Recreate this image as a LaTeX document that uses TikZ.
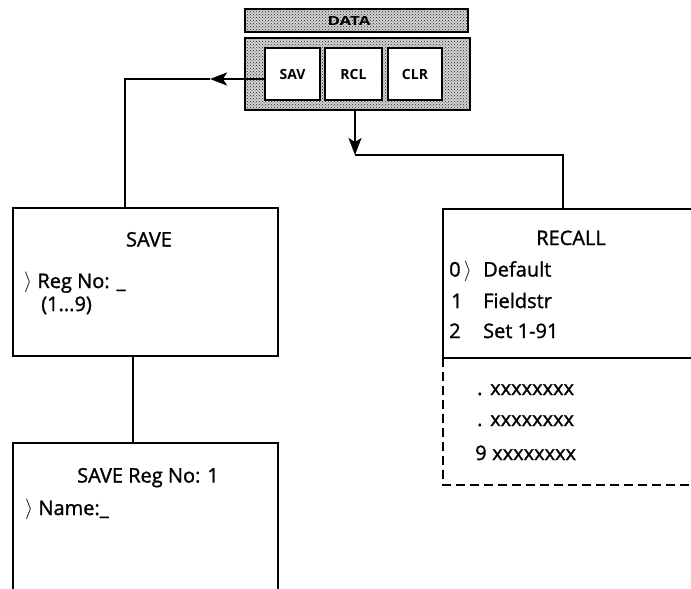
\documentclass[tikz,border=0pt]{standalone}
\usepackage{fontspec}
\setmainfont{Open Sans}
\newfontfamily\heavyfont{Open Sans}[FakeBold=1.3]
\usetikzlibrary{arrows.meta,patterns}
\newcommand{\brk}{\raisebox{0.5pt}{$\rangle$}}
\begin{document}
\begin{tikzpicture}[x=1pt,y=-1pt,
  shaded/.style={draw, line width=2.4pt, pattern=crosshatch dots, pattern color=black!85, preaction={fill=gray!35}, inner sep=0pt},
  keybox/.style={draw, line width=2.2pt, fill=white, inner sep=0pt, minimum height=52pt, font=\fontsize{14}{16}\selectfont\bfseries},
  frame/.style={line width=2pt},
  conn/.style={line width=2pt},
  txt/.style={inner sep=0pt, font=\fontsize{20}{22}\selectfont\heavyfont},
  tip/.style={-{Stealth[length=17pt,width=13pt,inset=4pt]}}
]
\useasboundingbox (0,0) rectangle (691,589);
% DATA header and key panel
\node[shaded, minimum width=223pt, minimum height=23pt] (data) at (356.5,20.5) {};
\node[inner sep=0pt, font=\fontsize{12.5}{14}\selectfont\bfseries, xscale=1.35] (datalbl) at (349,21) {DATA};
\node[shaded, minimum width=225pt, minimum height=72pt] (panel) at (357.5,74) {};
\node[keybox, minimum width=55pt] (sav) at (292.5,74) {SAV};
\node[keybox, minimum width=57pt] (rcl) at (353.5,74) {RCL};
\node[keybox, minimum width=54pt] (clr) at (415,74) {CLR};

% SAVE box
\node[draw, frame, minimum width=265pt, minimum height=148pt, inner sep=0pt] (save) at (145.5,282) {};
\node[txt, anchor=base] (savet) at (149,246.5) {SAVE};
\node[txt, anchor=base west] (saver) at (24,288) {\brk\ Reg No: \_};
\node[txt, anchor=base west] (saverange) at (41,311) {(1...9)};

% SAVE Reg No box (open at the bottom)
\coordinate (sr-bl) at (13,589);
\coordinate (sr-tl) at (13,443);
\coordinate (sr-tr) at (278,443);
\coordinate (sr-br) at (278,589);
\draw[frame] (sr-bl) -- (sr-tl) -- (sr-tr) -- (sr-br);
\node[txt, anchor=base] (srt) at (148,482.5) {SAVE Reg No: 1};
\node[txt, anchor=base west] (srn) at (25,515) {\brk\ Name:\_};

% RECALL box (runs off the right edge)
\coordinate (rc-tr) at (691,209);
\coordinate (rc-tl) at (443,209);
\coordinate (rc-bl) at (443,358);
\coordinate (rc-br) at (691,358);
\coordinate (rc-dl) at (443,485);
\coordinate (rc-dr) at (691,485);
\draw[frame] (rc-tr) -- (rc-tl) -- (rc-bl) -- (rc-br);
\draw[frame, dash pattern=on 9pt off 5pt] (rc-bl) -- (rc-dl) -- (rc-dr);
\node[txt, anchor=base] (rct) at (571,245) {RECALL};
\node[txt, anchor=base west] (r0n) at (449,276.5) {0\,\brk};
\node[txt, anchor=base west] (r0) at (483,276.5) {Default};
\node[txt, anchor=base west] (r1n) at (451,308) {1};
\node[txt, anchor=base west] (r1) at (483,308) {Fieldstr};
\node[txt, anchor=base west] (r2n) at (449,338) {2};
\node[txt, anchor=base west] (r2) at (483,338) {Set 1-91};
\node[txt, anchor=base west] (d1n) at (477,395) {.};
\node[txt, anchor=base west] (d1) at (490,395) {xxxxxxxx};
\node[txt, anchor=base west] (d2n) at (477,426) {.};
\node[txt, anchor=base west] (d2) at (490,426) {xxxxxxxx};
\node[txt, anchor=base west] (d3n) at (475,460) {9};
\node[txt, anchor=base west] (d3) at (492,460) {xxxxxxxx};

% connectors
\coordinate (savtip) at (210,79);
\coordinate (savcorner) at (125,79);
\coordinate (rcltip) at (355,155);
\coordinate (rclcorner) at (563,155);
\draw[conn, tip] (sav.west |- savtip) -- (savtip);
\draw[conn] (savtip) -- (savcorner) -- (savcorner |- save.north);
\draw[conn, tip] (rcltip |- panel.south) -- (rcltip);
\draw[conn] (rcltip) -- (rclcorner) -- (rclcorner |- rc-tl);
\draw[conn] (133,356) -- (133,443);
\end{tikzpicture}
\end{document}
